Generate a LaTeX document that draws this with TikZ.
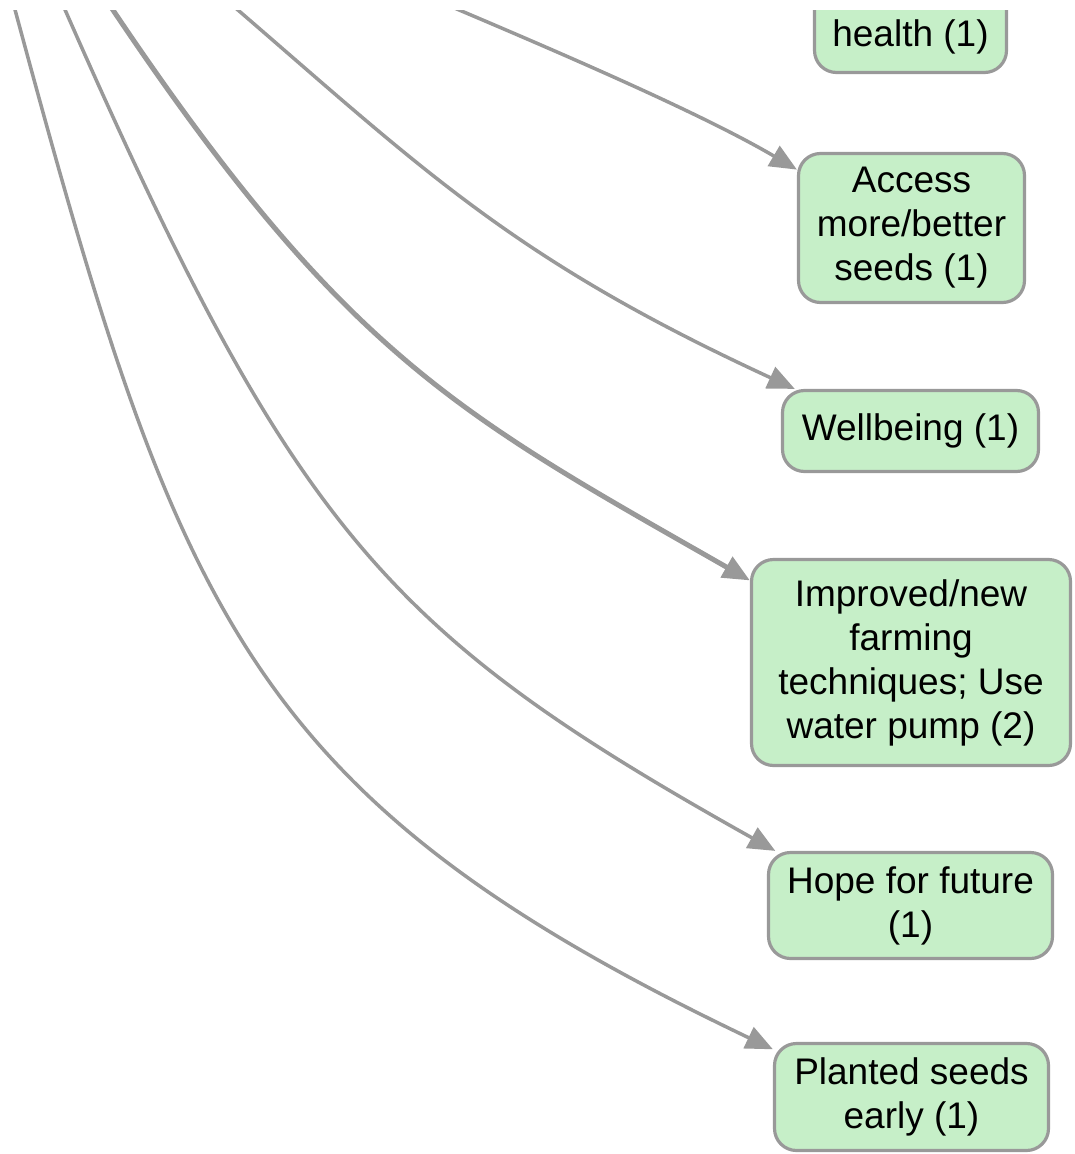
\documentclass[tikz,border=0pt]{standalone}
\usepackage{fontspec}
\setmainfont{Liberation Sans}
\usetikzlibrary{arrows.meta}
\definecolor{boxfill}{HTML}{C6EFC8}
\definecolor{edgegray}{HTML}{999999}
\begin{document}
\begin{tikzpicture}[x=1pt,y=-1pt,
  box/.style={draw=edgegray, fill=boxfill, line width=3.2pt, rounded corners=22pt,
    align=center, inner sep=0pt, font=\fontsize{37}{44}\selectfont, text=black},
  link/.style={draw=edgegray, line width=3.5pt, -{Triangle[length=27pt,width=23pt]}},
  thicklink/.style={link, line width=5pt}]
\useasboundingbox (0,0) rectangle (1074,1154);
\clip (0,10) rectangle (1074,1160);

\node[box, minimum width=192pt, minimum height=107pt] (health) at (910.5,19) {\phantom{x}\\health (1)};
\node[box, minimum width=226pt, minimum height=149pt] (access) at (911.5,228) {Access\\more/better\\seeds (1)};
\node[box, minimum width=256pt, minimum height=81pt] (wellbeing) at (910.5,431) {Wellbeing (1)};
\node[box, minimum width=319pt, minimum height=206pt] (improved) at (911,662.5) {Improved/new\\farming\\techniques; Use\\water pump (2)};
\node[box, minimum width=284pt, minimum height=106pt] (hope) at (910.5,905.5) {Hope for future\\(1)};
\node[box, minimum width=274pt, minimum height=107pt] (planted) at (911.5,1097) {Planted seeds\\early (1)};

\coordinate (s1) at (388,-20);
\coordinate (s2) at (203,-20);
\coordinate (s3) at (93,-20);
\coordinate (s4) at (52,-20);
\coordinate (s5) at (7,-20);

\draw[link] (s1) .. controls (526,38) and (694,109) .. (access.153.6);
\draw[link] (s2) .. controls (416,162) and (500,253) .. (wellbeing.160.7);
\draw[thicklink] (s3) .. controls (341,356) and (455,412) .. (improved.153.4);
\draw[link] (s4) .. controls (292,530) and (381,630) .. (hope.158.5);
\draw[link] (s5) .. controls (176,608) and (238,794) .. (planted.161.3);
\end{tikzpicture}
\end{document}
